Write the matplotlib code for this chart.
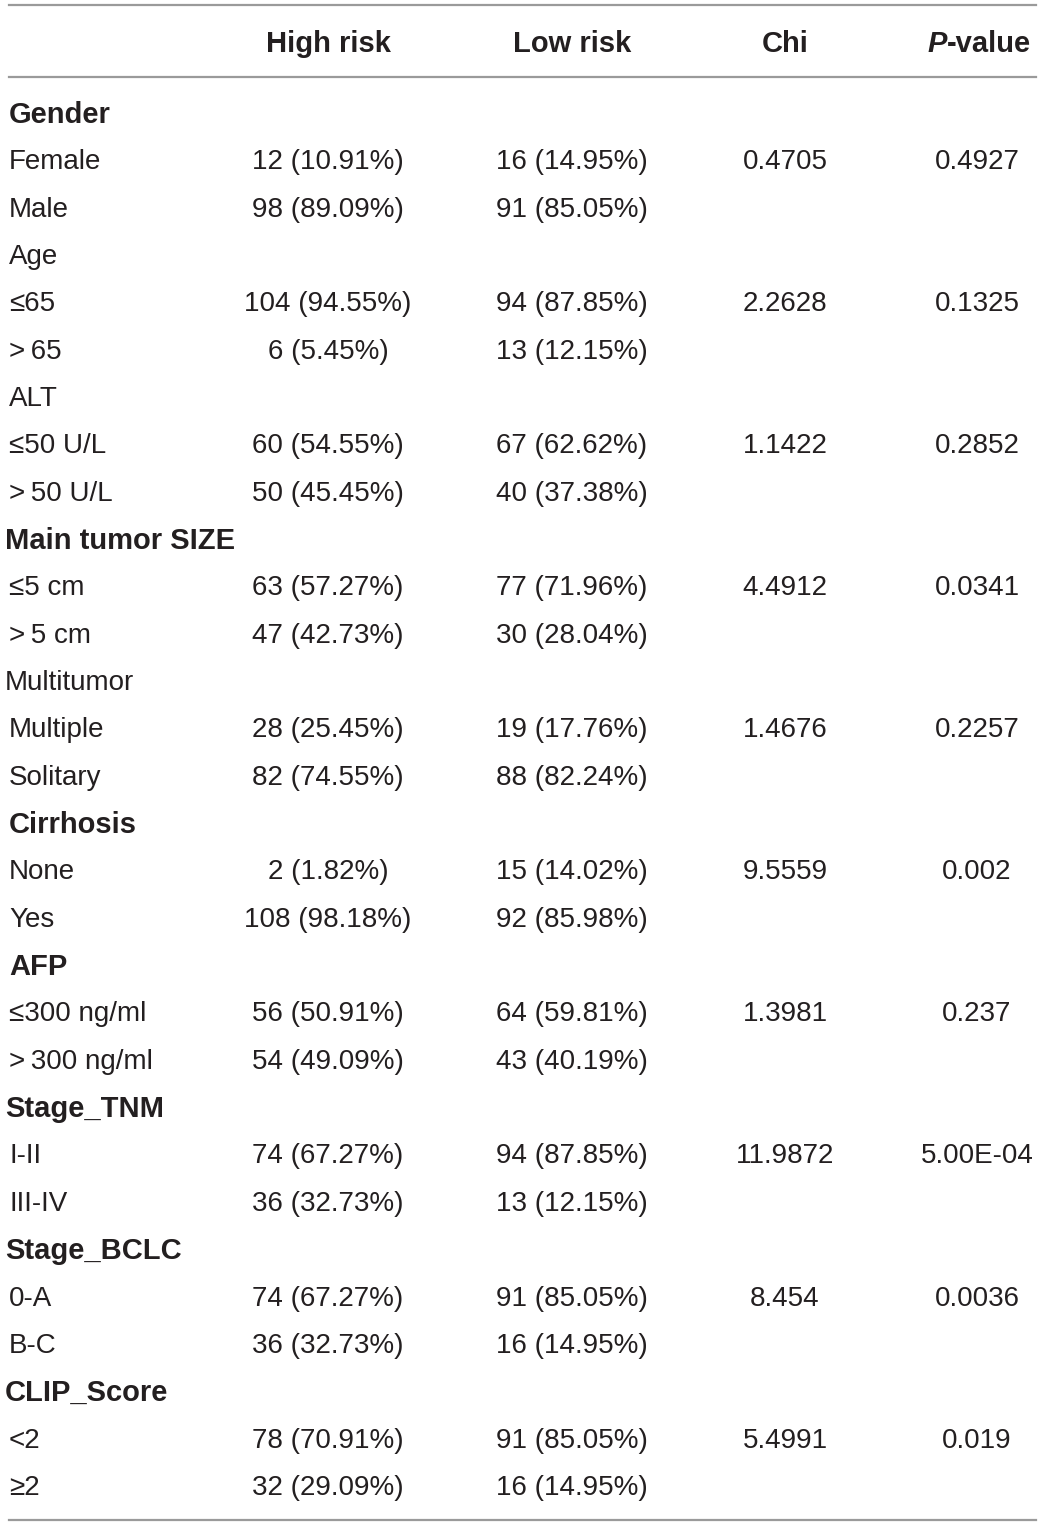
import matplotlib
matplotlib.use("Agg")
import matplotlib.pyplot as plt

plt.rcParams['font.family'] = ['Liberation Sans', 'DejaVu Sans']

# table content
headers = ["High risk", "Low risk", "Chi", "P-value"]
row_labels = ["Gender", "Female", "Male", "Age", "\u226465", ">\u200965", "ALT",
              "\u226450 U/L", ">\u200950 U/L", "Main tumor SIZE", "\u22645 cm", ">\u20095 cm",
              "Multitumor", "Multiple", "Solitary", "Cirrhosis", "None", "Yes",
              "AFP", "\u2264300 ng/ml", ">\u2009300 ng/ml", "Stage_TNM", "I-II", "III-IV",
              "Stage_BCLC", "0-A", "B-C", "CLIP_Score", "<2", "\u22652"]
bold_rows = ["Gender", "Main tumor SIZE", "Cirrhosis", "AFP", "Stage_TNM",
             "Stage_BCLC", "CLIP_Score"]
high_risk = ["", "12 (10.91%)", "98 (89.09%)", "", "104 (94.55%)", "6 (5.45%)", "",
             "60 (54.55%)", "50 (45.45%)", "", "63 (57.27%)", "47 (42.73%)", "",
             "28 (25.45%)", "82 (74.55%)", "", "2 (1.82%)", "108 (98.18%)", "",
             "56 (50.91%)", "54 (49.09%)", "", "74 (67.27%)", "36 (32.73%)", "",
             "74 (67.27%)", "36 (32.73%)", "", "78 (70.91%)", "32 (29.09%)"]
low_risk = ["", "16 (14.95%)", "91 (85.05%)", "", "94 (87.85%)", "13 (12.15%)", "",
            "67 (62.62%)", "40 (37.38%)", "", "77 (71.96%)", "30 (28.04%)", "",
            "19 (17.76%)", "88 (82.24%)", "", "15 (14.02%)", "92 (85.98%)", "",
            "64 (59.81%)", "43 (40.19%)", "", "94 (87.85%)", "13 (12.15%)", "",
            "91 (85.05%)", "16 (14.95%)", "", "91 (85.05%)", "16 (14.95%)"]
chi = ["", "0.4705", "", "", "2.2628", "", "", "1.1422", "", "", "4.4912", "", "",
       "1.4676", "", "", "9.5559", "", "", "1.3981", "", "", "11.9872", "", "",
       "8.454", "", "", "5.4991", ""]
p_value = ["", "0.4927", "", "", "0.1325", "", "", "0.2852", "", "", "0.0341", "", "",
           "0.2257", "", "", "0.002", "", "", "0.237", "", "", "5.00E-04", "", "",
           "0.0036", "", "", "0.019", ""]

W, H = 1043, 1526
fig = plt.figure(figsize=(W / 100, H / 100), dpi=100)
ax = fig.add_axes([0, 0, 1, 1])
ax.set_xlim(0, W)
ax.set_ylim(H, 0)
ax.axis("off")

txt = "#231f20"
fs = 20
hfs = 21
col_x = [328, 572, 785, 977]
y0, dy = 115, 47.34
hy = 44

# rules
for y in [5, 77, 1520]:
    ax.plot([9, 1036], [y, y], color="#9a9a9a", lw=1.6)

# header
for x, h in zip(col_x, headers):
    if h == "P-value":
        t = ax.text(1031, hy, "-value", ha="right", va="center", fontsize=hfs,
                    fontweight="bold", color=txt)
        fig.canvas.draw()
        bb = t.get_window_extent()
        ax.text(bb.x0, hy, "P", ha="right", va="center", fontsize=hfs,
                fontweight="bold", style="italic", color=txt)
    else:
        ax.text(x, hy, h, ha="center", va="center", fontsize=hfs,
                fontweight="bold", color=txt)

for i, lab in enumerate(row_labels):
    y = y0 + i * dy
    bold = lab in bold_rows
    lx = 5 if lab in ["Main tumor SIZE", "Multitumor", "Stage_TNM", "Stage_BCLC", "CLIP_Score"] else 9
    ax.text(lx, y, lab, ha="left", va="center", fontsize=hfs if bold else fs, color=txt,
            fontweight="bold" if bold else "normal")
    for x, col in zip(col_x, [high_risk, low_risk, chi, p_value]):
        if col[i]:
            ax.text(x, y, col[i], ha="center", va="center", fontsize=fs, color=txt)

fig.savefig("out.png", dpi=100)
